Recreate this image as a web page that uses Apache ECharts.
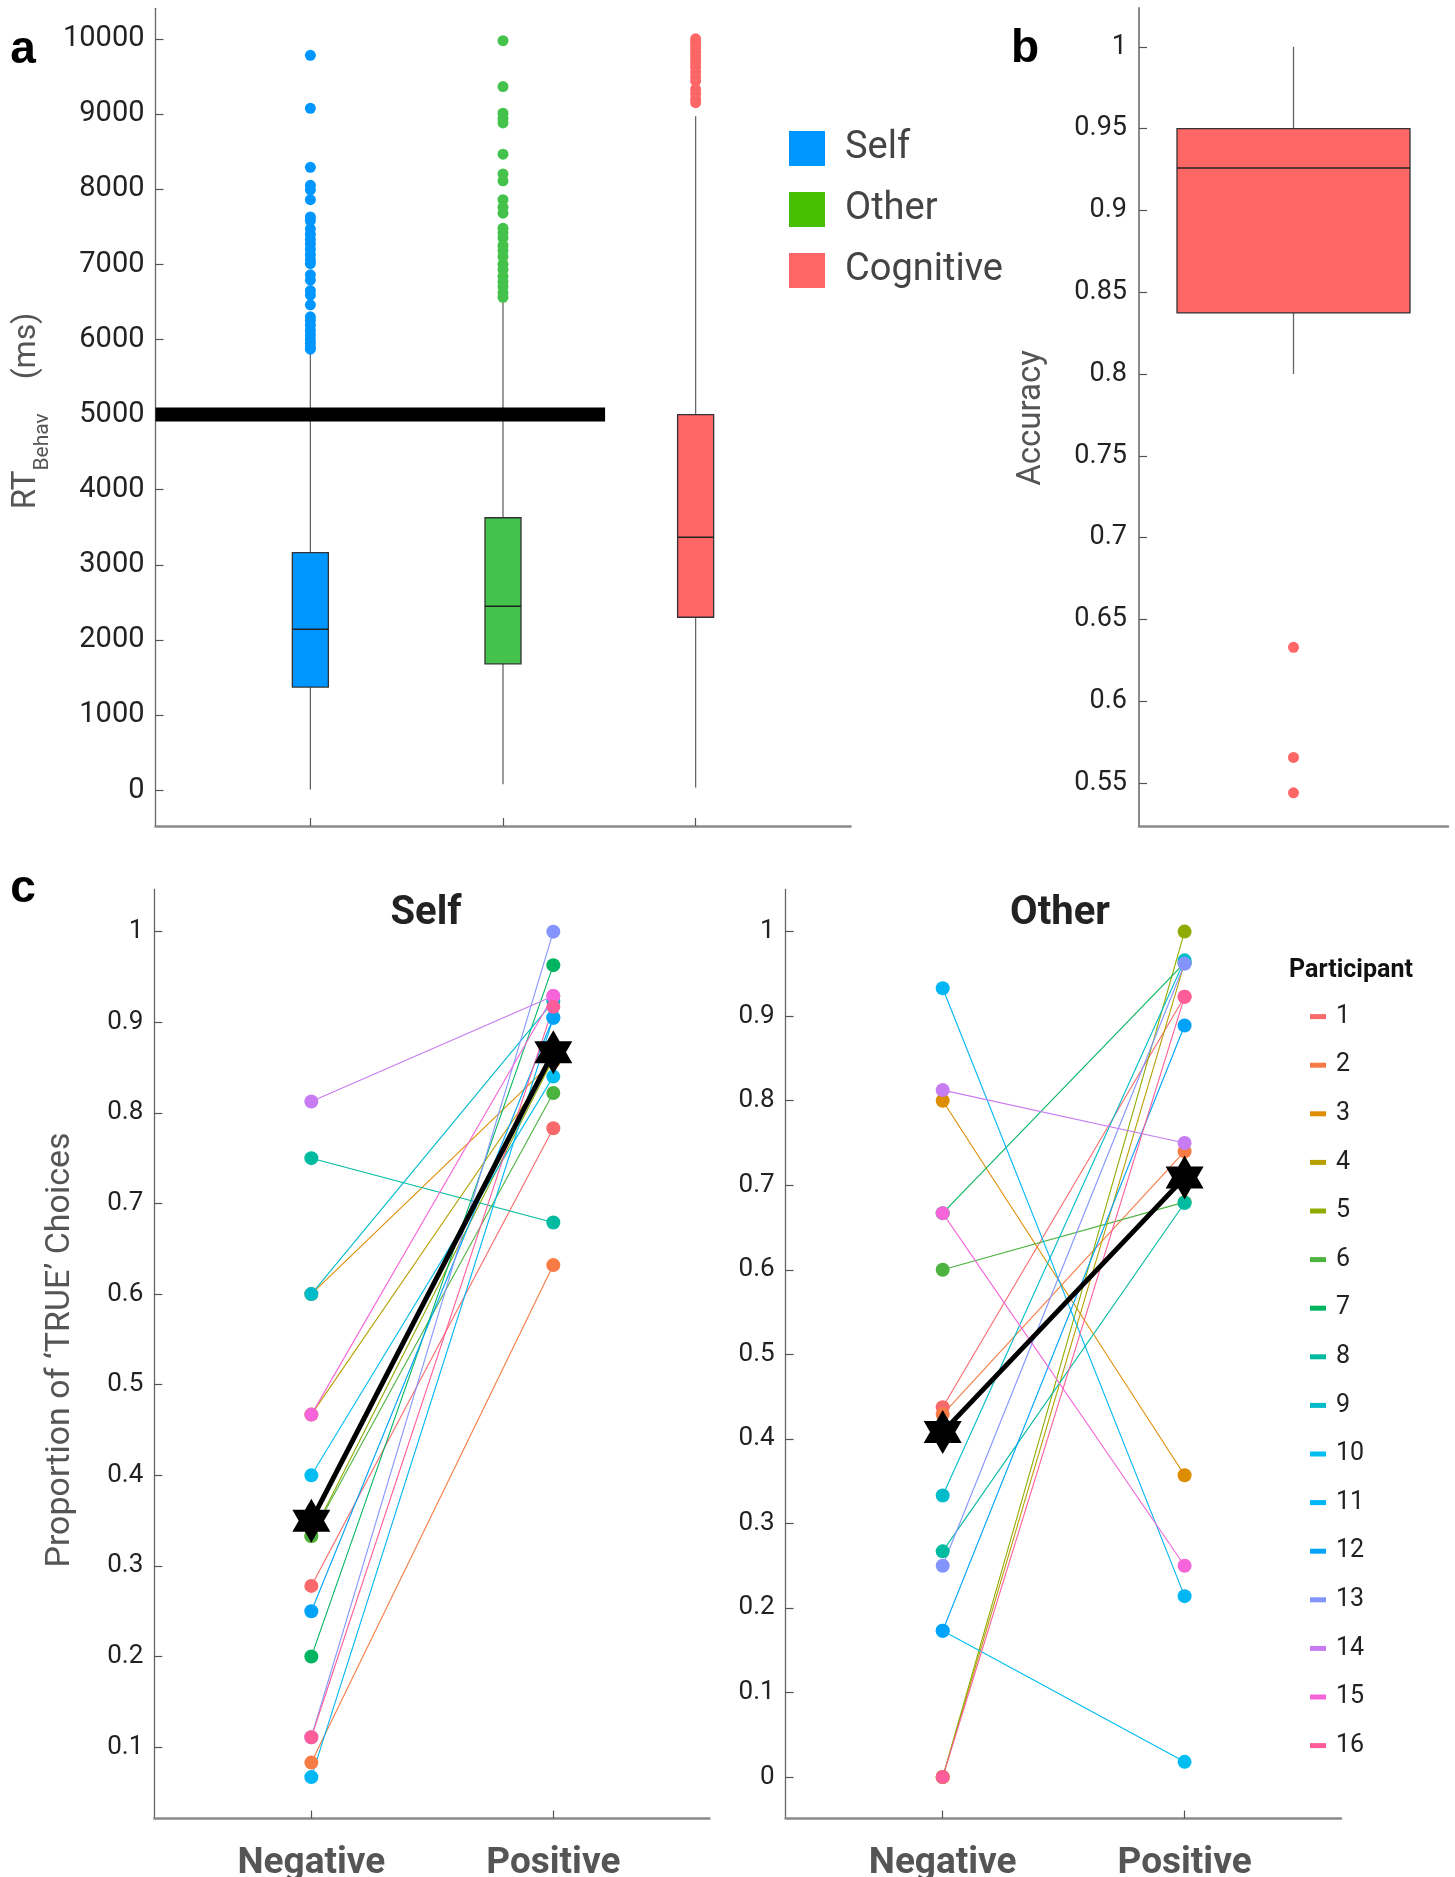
<!DOCTYPE html>
<html><head><meta charset="utf-8">
<script src="https://cdn.jsdelivr.net/npm/echarts@6/dist/echarts.min.js"></script>
<style>html,body{margin:0;padding:0;background:#fff}#c{width:1455px;height:1877px}</style>
</head><body><div id="c"></div>
<script>
const FONT = 'Roboto, "Noto Sans", sans-serif';

// ---------- Panel a : RT boxplots ----------
const rtCategories = ['Self', 'Other', 'Cognitive'];
const rtBoxColors = ['#0096FF', '#44C24C', '#FF6666'];
const rtLegendColors = ['#0096FF', '#46C000', '#FF6666'];
const rtMin = [10, 80, 35];
const rtQ1 = [1373, 1683, 2303];
const rtMedian = [2143, 2449, 3366];
const rtQ3 = [3162, 3627, 5000];
const rtMax = [5820, 6510, 8970];
const rtOutliersSelf = [9780, 9075, 8290, 8050, 7990, 7860, 7630, 7580, 7470, 7400, 7330, 7270, 7200, 7130, 7060, 7010, 6860, 6790, 6650, 6590, 6460, 6300, 6250, 6190, 6120, 6060, 6000, 5950, 5900, 5870];
const rtOutliersOther = [9975, 9365, 9010, 8940, 8880, 8465, 8200, 8110, 7860, 7760, 7680, 7480, 7420, 7350, 7250, 7180, 7100, 7000, 6930, 6840, 6770, 6700, 6620, 6560];
const rtOutliersCognitive = [10000, 9960, 9920, 9870, 9820, 9770, 9720, 9670, 9620, 9560, 9500, 9440, 9330, 9270, 9200, 9150];
const rtTicks = [0, 1000, 2000, 3000, 4000, 5000, 6000, 7000, 8000, 9000, 10000];
const rtThreshold = 5000;
const rtThresholdEnd = 2.53;

// ---------- Panel b : Accuracy ----------
const accStats = [0.800, 0.8373, 0.9259, 0.950, 1.000]; // min, q1, median, q3, max
const accOutliers = [0.6329, 0.5656, 0.5440];
const accTicks = [0.55, 0.6, 0.65, 0.7, 0.75, 0.8, 0.85, 0.9, 0.95, 1];

// ---------- Panel c : proportions ----------
const conditions = ['Negative', 'Positive'];
const participants = ['1','2','3','4','5','6','7','8','9','10','11','12','13','14','15','16'];
const participantColors = ['#F8696B','#F77B45','#DE8C00','#B79F00','#8FAA00','#4DB340','#00B460','#00BBA0','#00BBCA','#00BDF2','#00B6F4','#00A3F8','#8494FF','#C77CF2','#F564D8','#FF5C9A'];
const selfNeg  = [0.278, 0.083, 0.600, 0.467, 0.333, 0.333, 0.200, 0.750, 0.600, 0.400, 0.067, 0.250, 0.111, 0.8125, 0.467, 0.111];
const selfPos  = [0.783, 0.632, 0.857, 0.857, 0.860, 0.822, 0.963, 0.679, 0.923, 0.840, 0.905, 0.905, 1.000, 0.929, 0.929, 0.917];
const otherNeg = [0.4375, 0.429, 0.800, 0.000, 0.000, 0.600, 0.667, 0.267, 0.333, 0.173, 0.933, 0.173, 0.250, 0.8125, 0.667, 0.000];
const otherPos = [0.923, 0.740, 0.357, 0.963, 1.000, 0.680, 0.963, 0.679, 0.966, 0.018, 0.214, 0.889, 0.962, 0.750, 0.250, 0.923];
const selfMean = [0.350, 0.867];
const otherMean = [0.408, 0.709];
const selfTicks = [0.1, 0.2, 0.3, 0.4, 0.5, 0.6, 0.7, 0.8, 0.9, 1];
const otherTicks = [0, 0.1, 0.2, 0.3, 0.4, 0.5, 0.6, 0.7, 0.8, 0.9, 1];

const HEXAGRAM = 'path://M0,-10L2.887,-5L8.66,-5L5.774,0L8.66,5L2.887,5L0,10L-2.887,5L-8.66,5L-5.774,0L-8.66,-5L-2.887,-5Z';

function boxRenderer(colors, widthUnits) {
  return function (params, api) {
    const x = api.value(0);
    const pMin = api.coord([x, api.value(1)]);
    const pQ1 = api.coord([x, api.value(2)]);
    const pMed = api.coord([x, api.value(3)]);
    const pQ3 = api.coord([x, api.value(4)]);
    const pMax = api.coord([x, api.value(5)]);
    const half = api.size([widthUnits, 0])[0] / 2;
    const cx = pMed[0];
    const wh = { stroke: '#666', lineWidth: 1.3 };
    return {
      type: 'group',
      children: [
        { type: 'line', shape: { x1: cx, y1: pMax[1], x2: cx, y2: pQ3[1] }, style: wh },
        { type: 'line', shape: { x1: cx, y1: pQ1[1], x2: cx, y2: pMin[1] }, style: wh },
        { type: 'rect', shape: { x: cx - half, y: pQ3[1], width: 2 * half, height: pQ1[1] - pQ3[1] },
          style: { fill: colors[params.dataIndex], stroke: '#333', lineWidth: 1.3 } },
        { type: 'line', shape: { x1: cx - half, y1: pMed[1], x2: cx + half, y2: pMed[1] },
          style: { stroke: '#222', lineWidth: 1.5 } }
      ]
    };
  };
}

const rtBoxData = rtCategories.map((c, i) => [i + 1, rtMin[i], rtQ1[i], rtMedian[i], rtQ3[i], rtMax[i]]);
const rtOutlierSets = [rtOutliersSelf, rtOutliersOther, rtOutliersCognitive];

const fmt = v => String(v);
const yLineA = { show: true, onZero: false, lineStyle: { color: '#666', width: 1.3 } };
const xLineA = { show: true, onZero: false, lineStyle: { color: '#8a8a8a', width: 2.5 } };
const tickIn = (vals) => ({ show: true, inside: true, length: 8, customValues: vals, lineStyle: { color: '#555', width: 1.2 } });

const grids = [
  { left: 155.5, top: 8.3, width: 695, height: 817.7, outerBoundsMode: 'none', containLabel: false },
  { left: 1139, top: 8, width: 309, height: 818, outerBoundsMode: 'none', containLabel: false },
  { left: 154.3, top: 889.4, width: 555.1, height: 929.1, outerBoundsMode: 'none', containLabel: false },
  { left: 785.6, top: 889.4, width: 555.4, height: 929.1, outerBoundsMode: 'none', containLabel: false }
];

const xLabelC = { customValues: [1, 2], formatter: v => conditions[Math.round(v) - 1], margin: 27,
  fontFamily: FONT, fontSize: 37, fontWeight: 'bold', color: '#555' };

const xAxes = [
  { gridIndex: 0, type: 'value', min: 0.196, max: 3.804, axisLine: xLineA, axisTick: tickIn([1, 2, 3]),
    axisLabel: { show: false }, splitLine: { show: false } },
  { gridIndex: 1, type: 'value', min: 0, max: 2, axisLine: { show: true, onZero: false, lineStyle: { color: '#8a8a8a', width: 2.5 } },
    axisTick: { show: false }, axisLabel: { show: false }, splitLine: { show: false } },
  { gridIndex: 2, type: 'value', min: 0.351, max: 2.645, axisLine: xLineA, axisTick: tickIn([1, 2]),
    axisLabel: xLabelC, splitLine: { show: false } },
  { gridIndex: 3, type: 'value', min: 0.3506, max: 2.6466, axisLine: xLineA, axisTick: tickIn([1, 2]),
    axisLabel: xLabelC, splitLine: { show: false } }
];

const yAxes = [
  { gridIndex: 0, type: 'value', min: -475, max: 10406, axisLine: yLineA, axisTick: tickIn(rtTicks),
    axisLabel: { customValues: rtTicks, formatter: fmt, margin: 11, fontFamily: FONT, fontSize: 29, color: '#222' },
    splitLine: { show: false } },
  { gridIndex: 1, type: 'value', min: 0.5237, max: 1.0237, axisLine: { show: true, onZero: false, lineStyle: { color: '#8a8a8a', width: 2 } },
    axisTick: tickIn(accTicks),
    axisLabel: { customValues: accTicks, formatter: fmt, margin: 12, fontFamily: FONT, fontSize: 27, color: '#222' },
    splitLine: { show: false } },
  { gridIndex: 2, type: 'value', min: 0.0213, max: 1.0466, axisLine: yLineA, axisTick: tickIn(selfTicks),
    axisLabel: { customValues: selfTicks, formatter: fmt, margin: 11, fontFamily: FONT, fontSize: 26, color: '#222' },
    splitLine: { show: false } },
  { gridIndex: 3, type: 'value', min: -0.049, max: 1.0499, axisLine: yLineA, axisTick: tickIn(otherTicks),
    axisLabel: { customValues: otherTicks, formatter: fmt, margin: 11, fontFamily: FONT, fontSize: 26, color: '#222' },
    splitLine: { show: false } }
];

const series = [];
// Panel a boxes
series.push({ type: 'custom', name: 'rtBoxes', xAxisIndex: 0, yAxisIndex: 0, renderItem: boxRenderer(rtBoxColors, 0.187),
  encode: { x: 0, y: [1, 2, 3, 4, 5] }, data: rtBoxData, z: 2 });
// threshold bar
series.push({ type: 'line', name: 'threshold', xAxisIndex: 0, yAxisIndex: 0, symbol: 'none',
  lineStyle: { color: '#000', width: 14, cap: 'butt' }, data: [[0.196, rtThreshold], [rtThresholdEnd, rtThreshold]], z: 3 });
// outliers
rtCategories.forEach((c, i) => {
  series.push({ type: 'scatter', name: c, xAxisIndex: 0, yAxisIndex: 0, symbol: 'circle', symbolSize: 11,
    itemStyle: { color: rtBoxColors[i], opacity: 1 }, data: rtOutlierSets[i].map(v => [i + 1, v]), z: 4 });
});
// Panel b
series.push({ type: 'custom', name: 'accBox', xAxisIndex: 1, yAxisIndex: 1, renderItem: boxRenderer(['#FF6666'], 1.508),
  encode: { x: 0, y: [1, 2, 3, 4, 5] }, data: [[1].concat(accStats)], z: 2 });
series.push({ type: 'scatter', name: 'accOut', xAxisIndex: 1, yAxisIndex: 1, symbol: 'circle', symbolSize: 11,
  itemStyle: { color: '#FF6666', opacity: 1 }, data: accOutliers.map(v => [1, v]), z: 4 });
// Panel c participants
function addParticipants(neg, pos, axisIdx) {
  participants.forEach((p, i) => {
    series.push({ type: 'line', name: p, xAxisIndex: axisIdx, yAxisIndex: axisIdx, symbol: 'circle', symbolSize: 14,
      showSymbol: true, itemStyle: { color: participantColors[i], opacity: 1 },
      lineStyle: { color: participantColors[i], width: 1.1 },
      data: [[1, neg[i]], [2, pos[i]]], z: 3 });
  });
}
addParticipants(selfNeg, selfPos, 2);
addParticipants(otherNeg, otherPos, 3);
[[selfMean, 2], [otherMean, 3]].forEach(([m, idx]) => {
  series.push({ type: 'line', name: 'mean', xAxisIndex: idx, yAxisIndex: idx, symbol: HEXAGRAM, symbolSize: [38, 44],
    itemStyle: { color: '#000', opacity: 1 }, lineStyle: { color: '#000', width: 5 },
    data: m.map((v, j) => [j + 1, v]), z: 10 });
});

const txt = (x, y, text, size, opts) => Object.assign({ type: 'text', x: x, y: y, z: 100,
  style: Object.assign({ text: text, fontFamily: FONT, fontSize: size, fill: '#222', align: 'center', verticalAlign: 'middle' }, (opts && opts.style) || {}) },
  (opts && opts.el) || {});

const graphic = [
  txt(23, 50, 'a', 46, { style: { fontFamily: '"Liberation Sans", Arial, sans-serif', fontWeight: 'bold', fill: '#000' } }),
  txt(1025, 49, 'b', 46, { style: { fontFamily: '"Liberation Sans", Arial, sans-serif', fontWeight: 'bold', fill: '#000' } }),
  txt(23, 889, 'c', 46, { style: { fontFamily: '"Liberation Sans", Arial, sans-serif', fontWeight: 'bold', fill: '#000' } }),
  { type: 'text', x: 27, y: 411, rotation: Math.PI / 2, z: 100,
    style: { text: '{m|RT}{s|Behav}{p|(ms)}', align: 'center', verticalAlign: 'middle', fill: '#555',
      rich: {
        m: { fontFamily: FONT, fontSize: 33, lineHeight: 52, fill: '#555', verticalAlign: 'middle' },
        s: { fontFamily: FONT, fontSize: 21, lineHeight: 21, fill: '#555', verticalAlign: 'bottom' },
        p: { fontFamily: FONT, fontSize: 32, lineHeight: 52, fill: '#555', verticalAlign: 'middle', padding: [0, 0, 0, 34] }
      } } },
  txt(1032, 418, 'Accuracy', 33, { style: { fill: '#555' }, el: { rotation: Math.PI / 2 } }),
  txt(60, 1350, 'Proportion of \u2018TRUE\u2019 Choices', 34, { style: { fill: '#555' }, el: { rotation: Math.PI / 2 } }),
  txt(426, 914, 'Self', 40, { style: { fontWeight: 'bold', fill: '#222' } }),
  txt(1060, 914, 'Other', 40, { style: { fontWeight: 'bold', fill: '#222' } }),
  txt(1351, 971, 'Participant', 25, { style: { fontWeight: 'bold', fill: '#111' } })
];

const option = {
  animation: false,
  backgroundColor: '#fff',
  grid: grids,
  xAxis: xAxes,
  yAxis: yAxes,
  legend: [
    { data: rtCategories.map((c, i) => ({ name: c, itemStyle: { color: rtLegendColors[i] } })),
      orient: 'vertical', left: 784, top: 124.5, icon: 'rect', itemWidth: 36, itemHeight: 35, itemGap: 23,
      selectedMode: false,
      textStyle: { fontFamily: FONT, fontSize: 38, lineHeight: 35, color: '#444', padding: [0, 0, 0, 15] } },
    { data: participants, orient: 'vertical', left: 1305, top: 998.6, icon: 'rect', itemWidth: 16, itemHeight: 5,
      itemGap: 22.6, selectedMode: false,
      textStyle: { fontFamily: FONT, fontSize: 25, lineHeight: 26, color: '#222', padding: [0, 0, 0, 5] } }
  ],
  graphic: graphic,
  series: series
};

const chart = echarts.init(document.getElementById('c'), null, { renderer: 'canvas' });
chart.setOption(option);
</script>
</body></html>
